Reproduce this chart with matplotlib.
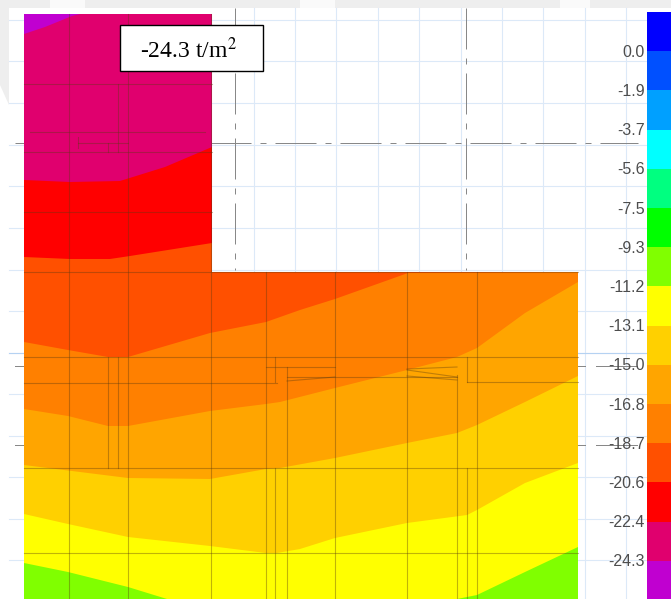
import numpy as np
import matplotlib
matplotlib.use('Agg')
import matplotlib.pyplot as plt
from matplotlib.patches import Polygon, Rectangle

W, H = 671, 599

# legend
levels = ['0.0', '-1.9', '-3.7', '-5.6', '-7.5', '-9.3', '-11.2', '-13.1',
          '-15.0', '-16.8', '-18.7', '-20.6', '-22.4', '-24.3']
legend_colors = ['#0000ff', '#0050ff', '#00a0ff', '#00ffff', '#00ff80', '#00ff00', '#80ff00',
                 '#ffff00', '#ffd000', '#ffa500', '#ff8000', '#ff5000', '#ff0000', '#e0006e', '#c000d0']

# contour band boundaries (x, y in image pixels)
purple_x = [24, 24, 45, 72, 80]
purple_y = [14, 34, 27, 16, 14]
magenta_x = [24, 70, 120, 165, 212]
magenta_y = [180, 182, 181, 167, 147]
red_x = [24, 70, 110, 130, 212, 578]
red_y = [257, 259, 259, 256, 243, 243]
orangered_x = [24, 68, 108, 128, 210, 266, 300, 335, 408, 578]
orangered_y = [342, 350, 357, 357, 333, 322, 310, 299, 273, 272]
orange_x = [24, 68, 108, 128, 210, 266, 280, 335, 407, 457, 477, 525, 578]
orange_y = [409, 416, 426, 426, 411, 404, 402, 388, 370, 357, 348, 313, 282]
amber_x = [24, 128, 210, 266, 280, 335, 407, 457, 477, 525, 578]
amber_y = [465, 478, 479, 469, 468, 458, 443, 433, 425, 402, 376]
gold_x = [24, 68, 128, 210, 266, 277, 300, 335, 407, 467, 477, 525, 578]
gold_y = [514, 524, 537, 546, 553, 553, 549, 538, 523, 515, 510, 483, 463]
green_left_x = [24, 68, 128, 167]
green_left_y = [563, 572, 587, 599]
green_right_x = [457, 477, 525, 578]
green_right_y = [599, 595, 572, 547]

# structure lines (position, start, end)
v_lines = [(69, 14, 599), (78, 137, 148), (108, 143, 152), (108, 357, 468), (118, 84, 152), (118, 357, 468),
           (128, 14, 599), (211, 14, 599), (266, 272, 599), (275, 357, 382), (275, 468, 599),
           (287, 367, 599), (335, 272, 599), (407, 272, 599), (457, 375, 599),
           (467, 357, 382), (467, 468, 599), (477, 272, 599)]
h_lines = [(84, 24, 212), (132, 30, 205), (143, 78, 128), (152, 24, 212), (212, 24, 212), (272, 24, 578),
           (357, 24, 578), (383, 24, 277), (377, 287, 457), (382, 467, 578), (367, 266, 335),
           (468, 24, 578), (553, 24, 578)]
grid_x = [254, 295, 336, 378, 419, 461, 502, 543, 585, 626]
grid_y = [20, 61, 103, 145, 186, 228, 270, 311, 353, 394, 436, 477, 519, 560]

fig = plt.figure(figsize=(W / 100, H / 100), dpi=100)
ax = fig.add_axes([0, 0, 1, 1])
ax.set_xlim(0, W)
ax.set_ylim(H, 0)
ax.axis('off')

# washed out watermark round the edge of the screenshot
ax.add_patch(Rectangle((0, 0), W, 8, facecolor='#eeeeee', edgecolor='none', zorder=0))
ax.add_patch(Polygon([[0, 0], [9, 0], [9, 105], [0, 85]], closed=True, facecolor='#eeeeee', edgecolor='none', zorder=0))
for gap in [(50, 85), (300, 335), (560, 590)]:
    ax.add_patch(Rectangle((gap[0], 0), gap[1] - gap[0], 8, facecolor='#fafafa', edgecolor='none', zorder=0))

for g in grid_x:
    ax.plot([g, g], [8, H], color='#dce9f8', lw=0.8, zorder=1)
for g in grid_y:
    ax.plot([9, 647], [g, g], color='#dce9f8', lw=0.8, zorder=1)
ax.plot([9, 24], [353, 353], color='#b5d2f2', lw=0.8, zorder=1)
ax.plot([578, 647], [353, 353], color='#b5d2f2', lw=0.8, zorder=1)

# dashed axis lines
dash = (0, (41, 9, 6, 9))
axis_col = '#888888'
ax.plot([235, 235], [8, 270], color=axis_col, lw=0.72, ls=dash, zorder=2)
ax.plot([466, 466], [8, 270], color=axis_col, lw=0.72, ls=dash, zorder=2)
ax.plot([15, 638], [143, 143], color=axis_col, lw=0.72, ls=dash, zorder=2)
for y in [366, 445]:
    ax.plot([15, 24], [y, y], color=axis_col, lw=0.72, zorder=2)
    ax.plot([578, 585], [y, y], color=axis_col, lw=0.72, zorder=2)
    ax.plot([596, 637], [y, y], color=axis_col, lw=0.72, zorder=2)

# slab outline, every band is clipped to it
outline = Polygon([[24, 14], [212, 14], [212, 272], [578, 272], [578, 599], [24, 599]],
                  closed=True, facecolor='#e0006e', edgecolor='none', zorder=3)
ax.add_patch(outline)


def band(xs, ys, color):
    p = ax.fill(list(xs) + [xs[-1], xs[0]], list(ys) + [H + 5, H + 5], color=color, lw=0, zorder=4)[0]
    p.set_clip_path(outline)


band(magenta_x, magenta_y, '#ff0000')
band(red_x, red_y, '#ff5000')
band(orangered_x, orangered_y, '#ff8000')
band(orange_x, orange_y, '#ffa500')
band(amber_x, amber_y, '#ffd000')
band(gold_x, gold_y, '#ffff00')
band(green_left_x, green_left_y, '#80ff00')
band(green_right_x, green_right_y, '#80ff00')
ax.fill(purple_x, purple_y, color='#c000d0', lw=0, zorder=4)

line_col = '#5a3a10'
for x, y0, y1 in v_lines:
    ax.plot([x, x], [y0, y1], color=line_col, alpha=0.38, lw=0.8, zorder=5)
for y, x0, x1 in h_lines:
    ax.plot([x0, x1], [y, y], color=line_col, alpha=0.38, lw=0.8, zorder=5)
# tapered beam ends
ax.plot([287, 335], [381, 377], color=line_col, alpha=0.38, lw=0.8, zorder=5)
ax.plot([407, 457], [369, 367], color=line_col, alpha=0.38, lw=0.8, zorder=5)
ax.plot([407, 457], [370, 377], color=line_col, alpha=0.38, lw=0.8, zorder=5)
ax.plot([407, 457], [376, 380], color=line_col, alpha=0.38, lw=0.8, zorder=5)

# colour legend
bar_top, bar_step = 12, 39.2
for i, c in enumerate(legend_colors):
    ax.bar(659, bar_step + 0.5, width=24, bottom=bar_top + i * bar_step, color=c, lw=0, align='center', zorder=6)
for i, lab in enumerate(levels):
    ax.text(645, bar_top + (i + 1) * bar_step + 1, lab, ha='right', va='center', color='#4d4d4d',
            family='Liberation Sans', fontsize=11.5, zorder=7)

# label box
ax.add_patch(Rectangle((120, 25), 143, 46, facecolor='white', edgecolor='black', lw=1, zorder=8))
plt.rcParams['mathtext.fontset'] = 'stix'
ax.text(188, 50, '-24.3 t/m$^2$', ha='center', va='center', family='Liberation Serif',
        fontsize=17, color='black', zorder=9)

fig.savefig('out.png', dpi=100)
